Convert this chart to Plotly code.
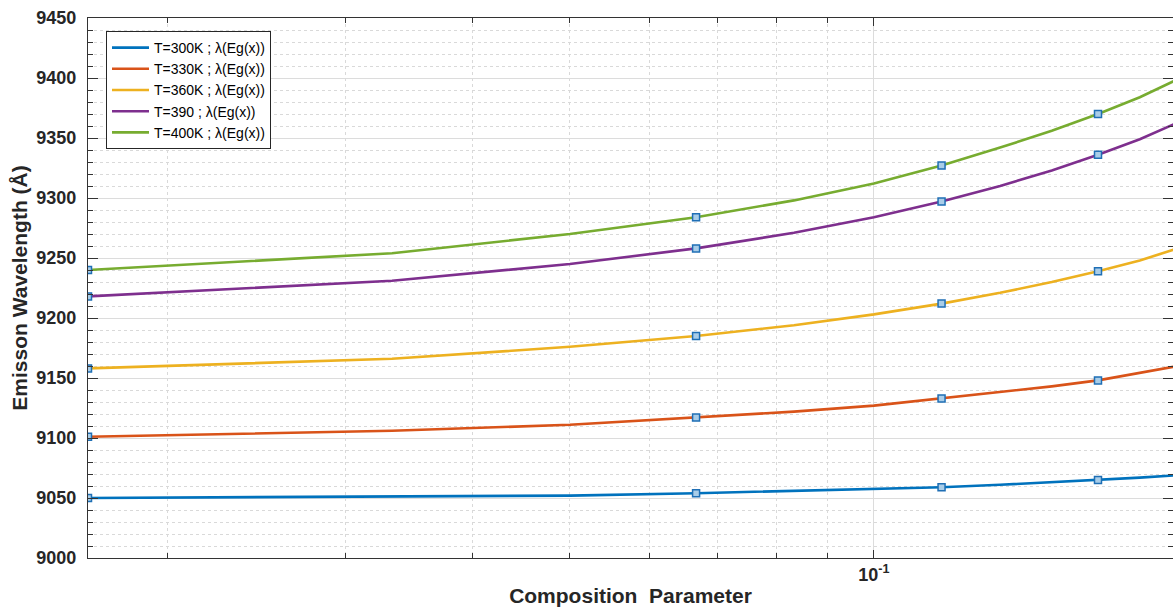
import plotly.graph_objects as go
import math

# Composition parameter values (k/60, k = 1..12)
x_vals = [1/60, 2/60, 3/60, 4/60, 5/60, 6/60, 7/60, 8/60, 9/60, 10/60, 11/60, 12/60]
marker_idx = [0, 3, 6, 9]

series_names = ["T=300K ; λ(Eg(x))", "T=330K ; λ(Eg(x))", "T=360K ; λ(Eg(x))",
                "T=390 ; λ(Eg(x))", "T=400K ; λ(Eg(x))"]
t300 = [9050, 9051, 9052, 9054, 9056, 9058, 9059, 9061, 9063, 9065, 9067, 9069]
t330 = [9101, 9106, 9111, 9117, 9122, 9127, 9133, 9138, 9143, 9148, 9154, 9160]
t360 = [9158, 9166, 9176, 9185, 9194, 9203, 9212, 9221, 9230, 9239, 9248, 9258]
t390 = [9218, 9231, 9245, 9258, 9271, 9284, 9297, 9310, 9323, 9336, 9349, 9363]
t400 = [9240, 9254, 9270, 9284, 9298, 9312, 9327, 9342, 9356, 9370, 9384, 9399]
series_vals = [t300, t330, t360, t390, t400]
colors = ["#0072BD", "#D95319", "#EDB120", "#7E2F8E", "#77AC30"]

y_ticks = [9000, 9050, 9100, 9150, 9200, 9250, 9300, 9350, 9400, 9450]
x_major = [0.1]
x_major_text = ["10<sup>-1</sup>"]
x_minor = [0.02, 0.03, 0.04, 0.05, 0.06, 0.07, 0.08, 0.09, 0.2]

fig = go.Figure()
for name, vals, c in zip(series_names, series_vals, colors):
    fig.add_trace(go.Scatter(x=x_vals, y=vals, mode="lines", name=name,
                             line=dict(color=c, width=2.6)))
    fig.add_trace(go.Scatter(x=[x_vals[i] for i in marker_idx],
                             y=[vals[i] for i in marker_idx],
                             mode="markers", showlegend=False, hoverinfo="skip",
                             marker=dict(symbol="square", size=7, color="#a9cde8",
                                         line=dict(color="#1f6fb5", width=1.5))))

W, H = 1173, 612
ml, mt, mb = 88, 18, 54
x_left = math.log10(1/60)
x_right = x_left + (W - ml) / 1010.0

axis_color = "#333333"
tick_font = dict(size=18, color="#262626", family="Liberation Sans, Arial, sans-serif", weight="bold")
fig.update_layout(
    width=W, height=H,
    margin=dict(l=ml, r=0, t=mt, b=mb, autoexpand=False),
    paper_bgcolor="white", plot_bgcolor="white",
    font=dict(family="Liberation Sans, Arial, sans-serif", color="#262626"),
    showlegend=True,
    legend=dict(x=(106 - ml) / (W - ml), y=1 - (31 - mt) / (H - mt - mb),
                xanchor="left", yanchor="top",
                bgcolor="white", bordercolor="#262626", borderwidth=1,
                font=dict(size=14, color="#000000"),
                tracegroupgap=0, itemwidth=37),
    xaxis=dict(type="log", range=[x_left, x_right], automargin=False,
               tickmode="array", tickvals=x_major, ticktext=x_major_text,
               tickfont=tick_font,
               ticks="inside", ticklen=8, tickcolor=axis_color, tickwidth=1,
               showline=True, linecolor=axis_color, linewidth=1.2, mirror="allticks",
               showgrid=True, gridcolor="#dcdcdc", gridwidth=1,
               minor=dict(tickmode="array", tickvals=x_minor, ticks="inside", ticklen=5,
                          tickcolor=axis_color, showgrid=True, gridcolor="#d9d9d9",
                          griddash="dot", gridwidth=1),
               title=dict(text="<b>Composition  Parameter</b>", font=dict(size=21, color="#262626"),
                          standoff=4),
               zeroline=False),
    yaxis=dict(range=[9000, 9450], automargin=False, tickmode="array", tickvals=y_ticks,
               tickfont=tick_font,
               ticks="inside", ticklen=10, tickcolor=axis_color, tickwidth=1,
               showline=True, linecolor=axis_color, linewidth=1.2, mirror="allticks",
               showgrid=True, gridcolor="#dcdcdc", gridwidth=1,
               minor=dict(dtick=10, ticks="inside", ticklen=5, tickcolor=axis_color,
                          showgrid=True, gridcolor="#d9d9d9", griddash="dot", gridwidth=1),
               title=dict(text="<b>Emisson Wavelength (Å)</b>", font=dict(size=21, color="#262626"),
                          standoff=2),
               ticklabelstandoff=7,
               zeroline=False),
)

fig.write_html("out.html", config={"displayModeBar": False},
               post_script="document.body.style.margin='0';document.body.style.overflow='hidden';")
